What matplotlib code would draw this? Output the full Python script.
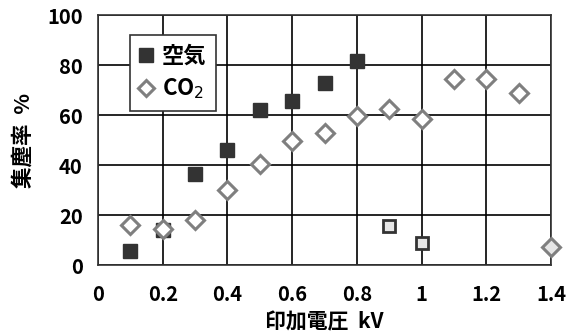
import matplotlib.pyplot as plt

plt.rcParams['font.family'] = ['Noto Sans CJK JP', 'DejaVu Sans']

# data
air_x = [0.1, 0.2, 0.3, 0.4, 0.5, 0.6, 0.7, 0.8]
air_y = [5.5, 14, 36.5, 46, 62, 65.5, 73, 81.5]
air_out_x = [0.9, 1.0]
air_out_y = [15.5, 9]

co2_x = [0.1, 0.2, 0.3, 0.4, 0.5, 0.6, 0.7, 0.8, 0.9, 1.0, 1.1, 1.2, 1.3]
co2_y = [16, 14.5, 18, 30, 40.5, 49.5, 53, 59.5, 62.5, 58.5, 74.5, 74.5, 69]
co2_out_x = [1.4]
co2_out_y = [7.2]

xticks = [0, 0.2, 0.4, 0.6, 0.8, 1, 1.2, 1.4]
xticklabels = ['0', '0.2', '0.4', '0.6', '0.8', '1', '1.2', '1.4']
yticks = [0, 20, 40, 60, 80, 100]

fig = plt.figure(figsize=(5.77, 3.36), dpi=100)
ax = fig.add_axes([98/577, 1 - 265/336, 453/577, 250/336])

ax.plot(air_x, air_y, 's', ms=10.5, color='#333333', mec='#333333', label='空気', zorder=3)
ax.plot(air_out_x, air_out_y, 's', ms=9, mfc='#e6e6e6', mec='#333333', mew=2, zorder=3)
ax.plot(co2_x, co2_y, 'D', ms=9, mfc='white', mec='#7f7f7f', mew=2.2, label='CO$_2$', zorder=4)
ax.plot(co2_out_x, co2_out_y, 'D', ms=9, mfc='#e6e6e6', mec='#7f7f7f', mew=2.2, zorder=4, clip_on=False)

ax.set_xlim(0, 1.4)
ax.set_ylim(0, 100)
ax.set_xticks(xticks)
ax.set_xticklabels(xticklabels)
ax.set_yticks(yticks)
ax.grid(True, color='black', linewidth=1.2)
ax.set_axisbelow(True)
ax.tick_params(axis='x', length=0, labelsize=14.5, pad=14)
ax.tick_params(axis='y', length=0, labelsize=14.5, pad=11)
for lbl in ax.get_xticklabels() + ax.get_yticklabels():
    lbl.set_fontweight('bold')
for s in ax.spines.values():
    s.set_color('#333333')
    s.set_linewidth(1.2)

ax.set_xlabel('印加電圧  kV', fontsize=15, fontweight='bold', labelpad=4)
ax.set_ylabel('集塵率  %', fontsize=15.5, fontweight='bold', labelpad=10)

leg = ax.legend(loc='upper left', bbox_to_anchor=(0.07, 0.92), borderaxespad=0,
                frameon=True, fancybox=False, markerscale=0.9,
                edgecolor='#333333', framealpha=1, handlelength=0.6, handletextpad=0.4,
                borderpad=0.45, labelspacing=0.4,
                prop={'size': 16, 'weight': 'bold', 'family': ['Noto Sans CJK JP', 'DejaVu Sans']})
leg.get_frame().set_linewidth(1.2)

fig.savefig('out.png', dpi=100)
